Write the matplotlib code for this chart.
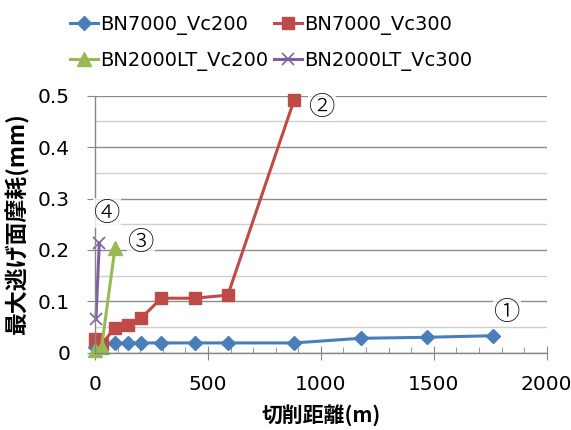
import matplotlib
matplotlib.use('Agg')
from matplotlib import pyplot as plt
from matplotlib.ticker import MultipleLocator

# 切削距離 (m)
dist_bn7000_vc200 = [0, 29.4, 88.2, 147, 205.8, 294, 441, 588, 882, 1176, 1470, 1764]
dist_bn7000_vc300 = [0, 29.4, 88.2, 147, 205.8, 294, 441, 588, 882]
dist_bn2000lt_vc200 = [0, 29.4, 88.2]
dist_bn2000lt_vc300 = [4, 19]

# 最大逃げ面摩耗 (mm)
wear_bn7000_vc200 = [0.012, 0.016, 0.019, 0.019, 0.019, 0.019, 0.019, 0.019, 0.019, 0.028, 0.030, 0.033]
wear_bn7000_vc300 = [0.026, 0.016, 0.049, 0.054, 0.068, 0.106, 0.106, 0.112, 0.492]
wear_bn2000lt_vc200 = [0.005, 0.012, 0.203]
wear_bn2000lt_vc300 = [0.065, 0.213]

labels = ['BN7000_Vc200', 'BN7000_Vc300', 'BN2000LT_Vc200', 'BN2000LT_Vc300']
yticks = [0, 0.1, 0.2, 0.3, 0.4, 0.5]
ytick_labels = ['0', '0.1', '0.2', '0.3', '0.4', '0.5']
marks = ['①', '②', '③', '④']
mark_pos = [(1823, 0.080), (1004, 0.479), (204, 0.215), (54, 0.272)]

plt.rcParams['font.family'] = ['DejaVu Sans', 'Noto Sans CJK JP']
plt.rcParams['font.size'] = 14.5

fig = plt.figure(figsize=(5.71, 4.30), dpi=100)
ax = fig.add_axes([0.1664, 0.1798, 0.7910, 0.5976])

l1, = ax.plot(dist_bn7000_vc200, wear_bn7000_vc200, color='#4A7EBB', marker='D', ms=7, lw=2.2, clip_on=False)
l2, = ax.plot(dist_bn7000_vc300, wear_bn7000_vc300, color='#BE4B48', marker='s', ms=9, lw=2.2, clip_on=False)
l3, = ax.plot(dist_bn2000lt_vc200, wear_bn2000lt_vc200, color='#98B954', marker='^', ms=10, lw=2.2, clip_on=False)
l4, = ax.plot(dist_bn2000lt_vc300, wear_bn2000lt_vc300, color='#7D60A0', marker='x', ms=9, mew=1.2, lw=2.2, clip_on=False)

for m, (mx, my) in zip(marks, mark_pos):
    ax.text(mx, my, m, fontsize=19, family=['Noto Sans CJK JP'], fontweight='light', ha='center', va='center',
            bbox=dict(facecolor='white', edgecolor='none', alpha=0.8, pad=0.5))

ax.set_xlim(0, 2000)
ax.set_ylim(0, 0.5)
ax.xaxis.set_major_locator(MultipleLocator(500))
ax.xaxis.set_minor_locator(MultipleLocator(100))
ax.set_yticks(yticks, ytick_labels)
ax.yaxis.set_minor_locator(MultipleLocator(0.05))

ax.grid(axis='y', which='major', color='#8C8C8C', lw=1.0)
ax.grid(axis='y', which='minor', color='#CFCFCF', lw=1.0)
ax.set_axisbelow(True)

for s in ['top', 'right']:
    ax.spines[s].set_visible(False)
for s in ['left', 'bottom']:
    ax.spines[s].set_color('#868686')
    ax.spines[s].set_linewidth(1.0)

ax.tick_params(axis='y', which='major', direction='out', length=6, color='#868686', pad=12)
ax.tick_params(axis='y', which='minor', length=0)
ax.tick_params(axis='x', which='major', direction='inout', length=10, color='#868686', pad=11)
ax.tick_params(axis='x', which='minor', direction='in', length=4, color='#868686')

ax.set_xlabel('切削距離(m)', family=['Noto Sans CJK JP'], fontweight='bold', fontsize=15)
ax.set_ylabel('最大逃げ面摩耗(mm)', family=['Noto Sans CJK JP'], fontweight='bold', fontsize=16.5)
ax.xaxis.set_label_coords(0.5, -0.20)
ax.yaxis.set_label_coords(-0.145, 0.5)

ax.legend([l1, l3, l2, l4], [labels[0], labels[2], labels[1], labels[3]],
          ncol=2, loc='upper left', bbox_to_anchor=(0.1226, 0.966), bbox_transform=fig.transFigure,
          frameon=False, borderpad=0, borderaxespad=0, handlelength=1.45, handletextpad=0.1,
          columnspacing=0.3, labelspacing=0.85, fontsize=14)

plt.savefig('out.png', dpi=100)
